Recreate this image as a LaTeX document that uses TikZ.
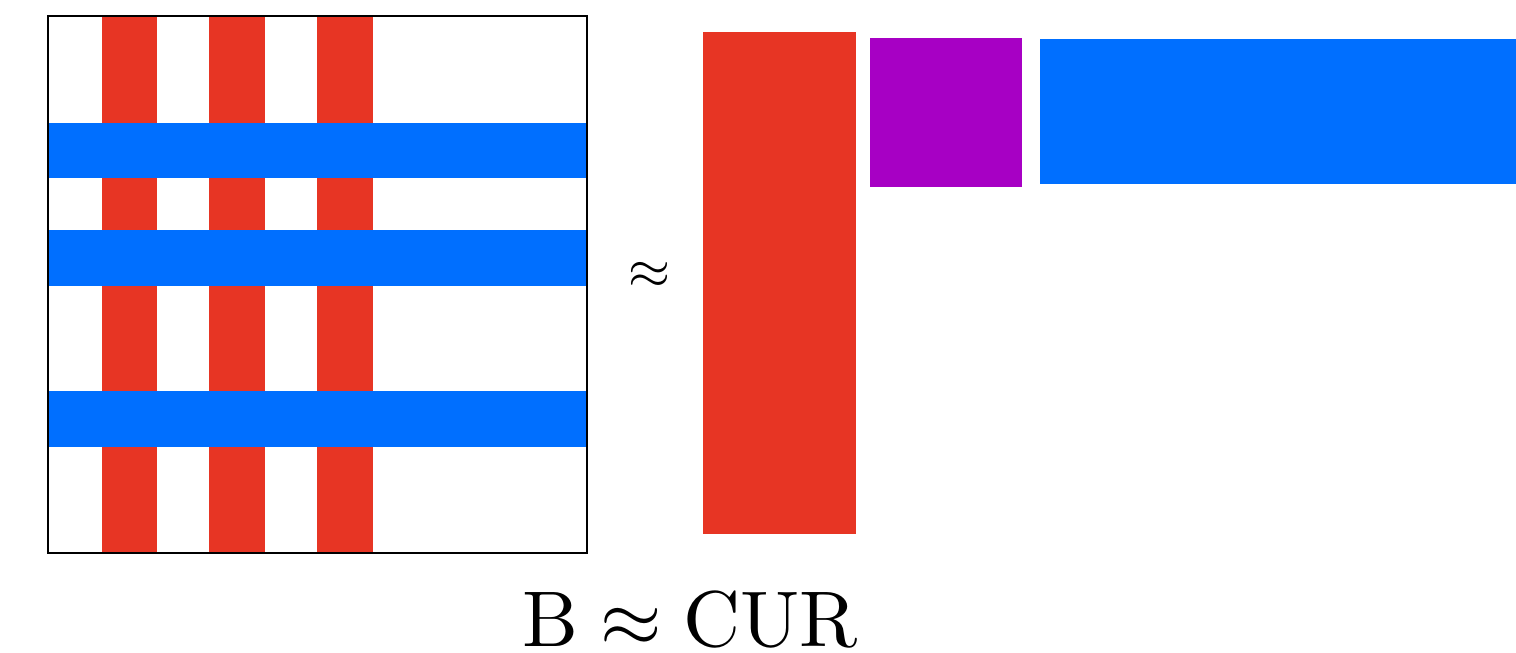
\documentclass[tikz,border=0pt]{standalone}
\definecolor{cred}{RGB}{231,53,36}
\definecolor{cblue}{RGB}{0,111,255}
\definecolor{cpurple}{RGB}{167,0,196}
\begin{document}
\begin{tikzpicture}[x=1pt,y=-1pt,
  redbar/.style={fill=cred,draw=none},
  bluebar/.style={fill=cblue,draw=none},
  purplebox/.style={fill=cpurple,draw=none},
  frame/.style={draw=black,line width=2pt}]
\useasboundingbox (0,0) rectangle (1516,653);
% left matrix
\fill[redbar] (102,17) rectangle (157,553);
\fill[redbar] (209,17) rectangle (265,553);
\fill[redbar] (317,17) rectangle (373,553);
\fill[bluebar] (49,123) rectangle (586,178);
\fill[bluebar] (49,230) rectangle (586,286);
\fill[bluebar] (49,391) rectangle (586,447);
\draw[frame] (48,16) rectangle (587,553);
% approx sign
\node[scale=5.4,inner sep=0pt] (ap) at (649,275) {$\approx$};
% C, U, R
\fill[redbar] (703,32) rectangle (856,534);
\fill[purplebox] (870,38) rectangle (1022,187);
\fill[bluebar] (1040,39) rectangle (1516,184);
% caption
\node[anchor=base,scale=7.9,inner sep=0pt] (cap) at (690,646) {$\mathrm{B}\approx\mathrm{CUR}$};
\end{tikzpicture}
\end{document}
